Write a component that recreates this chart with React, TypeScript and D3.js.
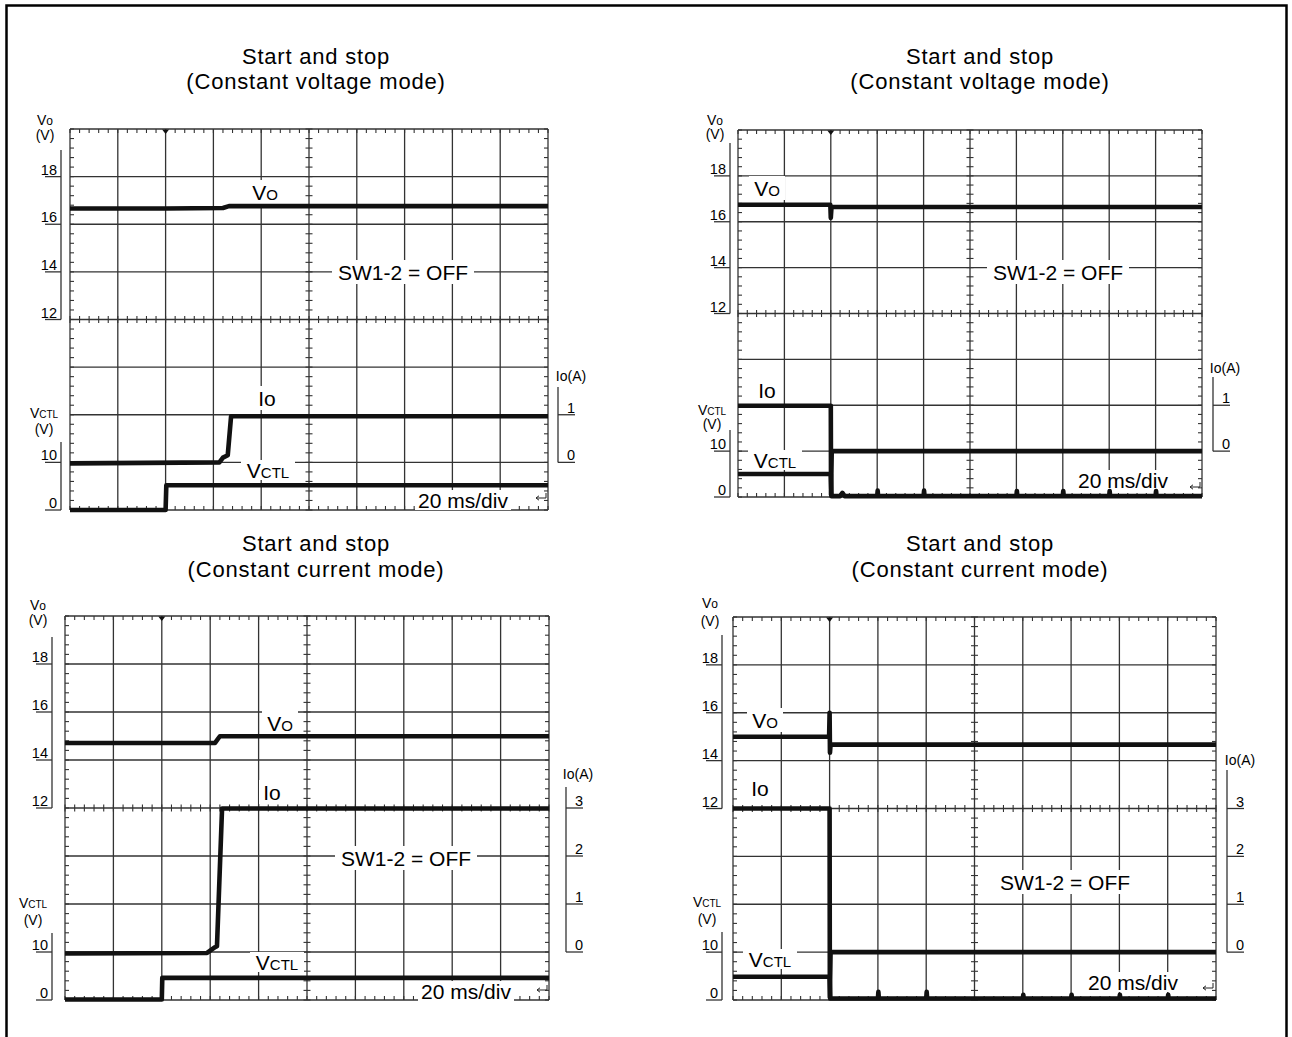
import React from 'react';
import * as d3 from 'd3';

type Pt = [number, number];

// ---- axis / tick values ----
const timeDivs = d3.range(0, 201, 20); // 20 ms/div, 10 divisions
const voTicks = [18, 16, 14, 12];
const vctlTicks = [10, 0];
const ioTicksCV = [1, 0];
const ioTicksCC = [3, 2, 1, 0];
const titleCV = ['Start and stop', '(Constant voltage mode)'];
const titleCC = ['Start and stop', '(Constant current mode)'];
const triggerTime = 40;

// ---- series (time ms, value) ----
// Panel 1: CV start
const p1Vo: Pt[] = [[0, 16.66], [40, 16.66], [64, 16.68], [66.5, 16.76], [200, 16.76]];
const p1Io: Pt[] = [[0, -0.02], [62.5, 0], [64, 0.1], [66, 0.15], [67.4, 0.97], [200, 0.97]];
const p1Vctl: Pt[] = [[0, 0], [40, 0], [40.3, 5.2], [200, 5.2]];
// Panel 2: CV stop
const p2Vo: Pt[] = [[0, 16.74], [39.8, 16.74], [40, 16.17], [40.3, 16.64], [200, 16.64]];
const p2Io: Pt[] = [[0, 0.99], [40, 0.99], [40.1, -0.95], [40.4, 0], [200, 0]];
const p2Vctl: Pt[] = [[0, 5.0], [40, 5.0], [40.3, 0.2], [44, 0.2], [45, 0.9], [46, 0.2],
  [60, 0.2], [60.2, 1.4], [60.4, 0.2], [80, 0.2], [80.2, 1.4], [80.4, 0.2],
  [120, 0.2], [120.2, 1.3], [120.4, 0.2], [140, 0.2], [140.2, 1.3], [140.4, 0.2],
  [160, 0.2], [160.2, 1.3], [160.4, 0.2], [180, 0.2], [180.2, 1.3], [180.4, 0.2], [200, 0.2]];
// Panel 3: CC start
const p3Vo: Pt[] = [[0, 14.71], [62, 14.71], [64, 14.99], [200, 14.99]];
const p3Io: Pt[] = [[0, -0.03], [58.7, -0.02], [62, 0.1], [62.8, 0.12], [64.9, 2.99], [200, 2.99]];
const p3Vctl: Pt[] = [[0, 0.1], [40, 0.1], [40.2, 4.6], [200, 4.6]];
// Panel 4: CC stop
const p4Vo: Pt[] = [[0, 15.0], [39.8, 15.0], [40, 16.0], [40.15, 14.33], [40.4, 14.67], [200, 14.67]];
const p4Io: Pt[] = [[0, 3.0], [40, 3.0], [40.1, -0.95], [40.4, 0], [200, 0]];
const p4Vctl: Pt[] = [[0, 4.85], [40, 4.85], [40.3, 0.3],
  [60, 0.3], [60.2, 1.7], [60.4, 0.3], [80, 0.3], [80.2, 1.7], [80.4, 0.3],
  [120, 0.3], [120.2, 1.1], [120.4, 0.3], [140, 0.3], [140.2, 1.1], [140.4, 0.3],
  [160, 0.3], [160.2, 1.1], [160.4, 0.3], [180, 0.3], [180.2, 1.1], [180.4, 0.3], [200, 0.3]];

// ---- layout ----
interface Layout {
  left: number; top: number; right: number; bottom: number;
  axisL: number; voAxisTop: number; vctlAxisTop: number;
  axisR: number; ioAxisTop: number;
  voLabel: [number, number, number]; vctlLabel: [number, number, number];
  ioLabel: [number, number];
  vo: [number, number]; io: [number, number]; vctl: [number, number];
  sw: [number, number]; ms: [number, number]; arrow: [number, number];
  titleCx: number; titleY: [number, number];
}

const L1: Layout = {
  left: 70, top: 129, right: 548, bottom: 510, axisL: 61, voAxisTop: 150, vctlAxisTop: 442,
  axisR: 558, ioAxisTop: 387, voLabel: [45, 125, 140], vctlLabel: [44, 418, 434], ioLabel: [571, 381],
  vo: [265, 192], io: [267, 398], vctl: [268, 470], sw: [403, 272], ms: [463, 500], arrow: [541, 498],
  titleCx: 316, titleY: [64, 89],
};
const L2: Layout = {
  left: 738, top: 130, right: 1202, bottom: 497, axisL: 730, voAxisTop: 143, vctlAxisTop: 430,
  axisR: 1213, ioAxisTop: 377, voLabel: [715, 125, 139], vctlLabel: [712, 415, 429], ioLabel: [1225, 373],
  vo: [767, 188], io: [767, 390], vctl: [775, 460], sw: [1058, 272], ms: [1123, 480], arrow: [1195, 487],
  titleCx: 980, titleY: [64, 89],
};
const L3: Layout = {
  left: 65, top: 616, right: 549, bottom: 1000, axisL: 52, voAxisTop: 637, vctlAxisTop: 933,
  axisR: 566, ioAxisTop: 787, voLabel: [38, 610, 625], vctlLabel: [33, 908, 925], ioLabel: [578, 779],
  vo: [280, 723], io: [272, 792], vctl: [277, 962], sw: [406, 858], ms: [466, 991], arrow: [542, 990],
  titleCx: 316, titleY: [551, 577],
};
const L4: Layout = {
  left: 733, top: 617, right: 1216, bottom: 1000, axisL: 722, voAxisTop: 635, vctlAxisTop: 932,
  axisR: 1227, ioAxisTop: 770, voLabel: [710, 608, 626], vctlLabel: [707, 907, 924], ioLabel: [1240, 765],
  vo: [765, 720], io: [760, 788], vctl: [770, 959], sw: [1065, 882], ms: [1133, 982], arrow: [1208, 988],
  titleCx: 980, titleY: [551, 577],
};

const FONT = '"Liberation Sans", Arial, Helvetica, sans-serif';
const GRID = '#333';
const TRACE = '#111';
const INK = '#000';

function BgLabel({ cx, cy, w, h, children }: { cx: number; cy: number; w: number; h: number; children: React.ReactNode }) {
  return (
    <g>
      <rect x={cx - w / 2} y={cy - h / 2} width={w} height={h} fill="#fff" />
      <text x={cx} y={cy + 7.5} textAnchor="middle" fontSize={21} fill={INK}>{children}</text>
    </g>
  );
}

function Panel({ L, vo, io, vctl, ioTicks, titles }: { L: Layout; vo: Pt[]; io: Pt[]; vctl: Pt[]; ioTicks: number[]; titles: string[] }) {
  const x = d3.scaleLinear().domain([0, 200]).range([L.left, L.right]);
  const div = d3.scaleLinear().domain([0, 8]).range([L.top, L.bottom]);
  const mid = div(4);
  const yV = d3.scaleLinear().domain([12, 20]).range([mid, L.top]);
  const yC = d3.scaleLinear().domain([0, 40]).range([L.bottom, mid]);
  const yI = d3.scaleLinear().domain([-1, 3]).range([L.bottom, mid]);
  const xMinor = d3.range(0, 200.01, 4);
  const yMinor = d3.range(0, 8.01, 0.2);
  const cx = x(100);
  const lineV = d3.line<Pt>().x(d => x(d[0])).y(d => yV(d[1]));
  const lineC = d3.line<Pt>().x(d => x(d[0])).y(d => yC(d[1]));
  const lineI = d3.line<Pt>().x(d => x(d[0])).y(d => yI(d[1]));
  const tx = x(triggerTime);
  const [ax, ay] = L.arrow;

  return (
    <g fontFamily={FONT}>
      {/* titles */}
      <text x={L.titleCx} y={L.titleY[0]} textAnchor="middle" fontSize={22} letterSpacing={0.8} fill={INK}>{titles[0]}</text>
      <text x={L.titleCx} y={L.titleY[1]} textAnchor="middle" fontSize={22} letterSpacing={0.8} fill={INK}>{titles[1]}</text>

      {/* grid */}
      {timeDivs.map(t => (
        <line key={'gx' + t} x1={x(t)} x2={x(t)} y1={L.top} y2={L.bottom} stroke={GRID} strokeWidth={1.3} />
      ))}
      {d3.range(0, 9).map(i => (
        <line key={'gy' + i} x1={L.left} x2={L.right} y1={div(i)} y2={div(i)} stroke={GRID} strokeWidth={1.3} />
      ))}
      {/* minor ticks */}
      {xMinor.map(t => (
        <g key={'mx' + t} stroke={GRID} strokeWidth={1.1}>
          <line x1={x(t)} x2={x(t)} y1={L.top} y2={L.top + 4} />
          <line x1={x(t)} x2={x(t)} y1={L.bottom} y2={L.bottom - 4} />
          <line x1={x(t)} x2={x(t)} y1={mid - 3.5} y2={mid + 3.5} />
        </g>
      ))}
      {yMinor.map(v => (
        <g key={'my' + v} stroke={GRID} strokeWidth={1.1}>
          <line x1={L.left} x2={L.left + 4} y1={div(v)} y2={div(v)} />
          <line x1={L.right} x2={L.right - 4} y1={div(v)} y2={div(v)} />
          <line x1={cx - 3.5} x2={cx + 3.5} y1={div(v)} y2={div(v)} />
        </g>
      ))}
      {/* trigger marker */}
      <path d={`M${tx - 3.5},${L.top + 0.5} L${tx + 3.5},${L.top + 0.5} L${tx},${L.top + 5} Z`} fill="#111" />

      {/* left Vo axis */}
      <line x1={L.axisL} x2={L.axisL} y1={L.voAxisTop} y2={yV(12)} stroke={GRID} strokeWidth={1.3} />
      {voTicks.map(v => (
        <g key={'vt' + v}>
          <line x1={L.axisL - 16} x2={L.axisL} y1={yV(v)} y2={yV(v)} stroke={GRID} strokeWidth={1.3} />
          <text x={L.axisL - 4} y={yV(v) - 2} textAnchor="end" fontSize={14.5} fill={INK}>{v}</text>
        </g>
      ))}
      <text x={L.voLabel[0]} y={L.voLabel[1]} textAnchor="middle" fontSize={14} fill={INK}>V<tspan fontSize={12}>o</tspan></text>
      <text x={L.voLabel[0]} y={L.voLabel[2]} textAnchor="middle" fontSize={14} fill={INK}>(V)</text>

      {/* left VCTL axis */}
      <line x1={L.axisL} x2={L.axisL} y1={L.vctlAxisTop} y2={yC(0)} stroke={GRID} strokeWidth={1.3} />
      {vctlTicks.map(v => (
        <g key={'ct' + v}>
          <line x1={L.axisL - 16} x2={L.axisL} y1={yC(v)} y2={yC(v)} stroke={GRID} strokeWidth={1.3} />
          <text x={L.axisL - 4} y={yC(v) - 2} textAnchor="end" fontSize={14.5} fill={INK}>{v}</text>
        </g>
      ))}
      <text x={L.vctlLabel[0]} y={L.vctlLabel[1]} textAnchor="middle" fontSize={14} fill={INK}>V<tspan fontSize={10}>CTL</tspan></text>
      <text x={L.vctlLabel[0]} y={L.vctlLabel[2]} textAnchor="middle" fontSize={14} fill={INK}>(V)</text>

      {/* right Io axis */}
      <line x1={L.axisR} x2={L.axisR} y1={L.ioAxisTop} y2={yI(0)} stroke={GRID} strokeWidth={1.3} />
      {ioTicks.map(v => (
        <g key={'it' + v}>
          <line x1={L.axisR} x2={L.axisR + 17} y1={yI(v)} y2={yI(v)} stroke={GRID} strokeWidth={1.3} />
          <text x={L.axisR + 17} y={yI(v) - 2} textAnchor="end" fontSize={14.5} fill={INK}>{v}</text>
        </g>
      ))}
      <text x={L.ioLabel[0]} y={L.ioLabel[1]} textAnchor="middle" fontSize={14} fill={INK}>Io(A)</text>

      {/* in-plot labels */}
      <BgLabel cx={L.vo[0]} cy={L.vo[1]} w={36} h={24}>V<tspan fontSize={15}>O</tspan></BgLabel>
      <BgLabel cx={L.io[0]} cy={L.io[1]} w={26} h={24}>Io</BgLabel>
      <BgLabel cx={L.vctl[0]} cy={L.vctl[1]} w={54} h={20}>V<tspan fontSize={15}>CTL</tspan></BgLabel>
      <BgLabel cx={L.sw[0]} cy={L.sw[1]} w={142} h={24}>SW1-2 = OFF</BgLabel>
      <BgLabel cx={L.ms[0]} cy={L.ms[1]} w={96} h={20}>20 ms/div</BgLabel>
      <g stroke="#222" strokeWidth={1} fill="none">
        <path d={`M${ax + 5},${ay} L${ax - 5},${ay} M${ax - 5},${ay} l3,-2.2 M${ax - 5},${ay} l3,2.2 M${ax + 5},${ay} L${ax + 5},${ay - 5}`} />
      </g>

      {/* traces */}
      <path d={lineV(vo) || ''} fill="none" stroke={TRACE} strokeWidth={4.6} strokeLinejoin="round" />
      <path d={lineI(io) || ''} fill="none" stroke={TRACE} strokeWidth={4.6} strokeLinejoin="round" />
      <path d={lineC(vctl) || ''} fill="none" stroke={TRACE} strokeWidth={4.6} strokeLinejoin="round" />
    </g>
  );
}

export default function App() {
  return (
    <svg width={1292} height={1037} style={{ position: 'absolute', left: 0, top: 0, background: '#fff' }}>
      <rect x={0} y={0} width={1292} height={1037} fill="#fff" />
      <rect x={6.5} y={5.5} width={1280} height={1050} fill="none" stroke="#000" strokeWidth={2.5} />
      <Panel L={L1} vo={p1Vo} io={p1Io} vctl={p1Vctl} ioTicks={ioTicksCV} titles={titleCV} />
      <Panel L={L2} vo={p2Vo} io={p2Io} vctl={p2Vctl} ioTicks={ioTicksCV} titles={titleCV} />
      <Panel L={L3} vo={p3Vo} io={p3Io} vctl={p3Vctl} ioTicks={ioTicksCC} titles={titleCC} />
      <Panel L={L4} vo={p4Vo} io={p4Io} vctl={p4Vctl} ioTicks={ioTicksCC} titles={titleCC} />
    </svg>
  );
}
